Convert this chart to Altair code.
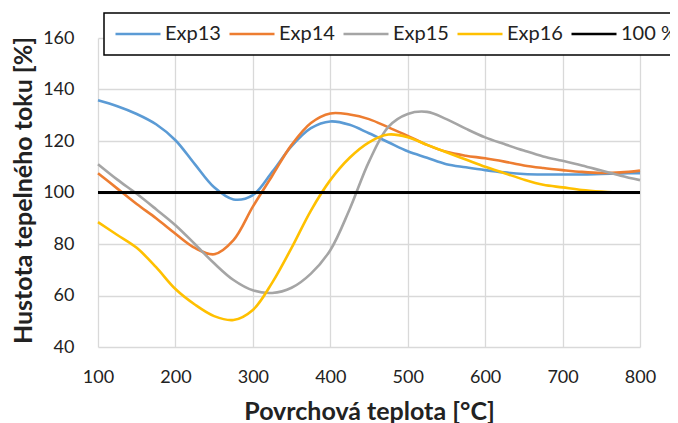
import altair as alt
import pandas as pd

temps = [100, 125, 150, 175, 200, 225, 250, 275, 300, 325, 350, 375, 400, 425, 450,
         475, 500, 525, 550, 575, 600, 625, 650, 675, 700, 725, 750, 775, 800]

exp13 = [135.8, 133.5, 130.5, 126.5, 120.3, 111.0, 102.0, 97.3, 99.0, 108.0, 118.0, 125.0,
         127.6, 126.3, 123.0, 119.5, 116.0, 113.5, 111.0, 109.8, 108.7, 107.8, 107.2, 107.0,
         107.0, 107.0, 107.2, 107.4, 107.5]
exp14 = [107.5, 101.5, 95.5, 90.0, 84.0, 78.5, 76.0, 81.5, 94.5, 106.5, 118.5, 127.0,
         130.7, 130.3, 128.5, 125.3, 122.0, 118.5, 115.8, 114.3, 113.3, 112.0, 110.5, 109.5,
         108.7, 108.0, 107.6, 107.8, 108.5]
exp15 = [111.0, 105.0, 99.5, 93.5, 87.3, 80.0, 72.5, 66.0, 62.0, 61.0, 63.0, 68.5,
         77.6, 93.5, 112.0, 125.5, 130.5, 131.3, 128.5, 124.8, 121.4, 118.8, 116.3, 114.0,
         112.3, 110.5, 108.5, 106.5, 104.8]
exp16 = [88.5, 83.5, 78.5, 71.0, 62.5, 56.5, 52.0, 50.5, 54.4, 65.0, 78.5, 93.0,
         104.8, 113.5, 119.5, 122.5, 121.5, 118.5, 115.6, 112.8, 110.0, 107.5, 105.0, 103.0,
         102.0, 101.0, 100.4, 100.0, 100.0]

ref_temps = [100, 800]
ref_values = [100, 100]

series_names = ["Exp13", "Exp14", "Exp15", "Exp16", "100 %"]
series_colors = ["#5B9BD5", "#ED7D31", "#A5A5A5", "#FFC000", "#000000"]

x_ticks = [100, 200, 300, 400, 500, 600, 700, 800]
y_ticks = [40, 60, 80, 100, 120, 140, 160]

rows = []
for name, vals in zip(series_names[:4], [exp13, exp14, exp15, exp16]):
    for t, v in zip(temps, vals):
        rows.append({"T": t, "V": v, "S": name})
df = pd.DataFrame(rows)
ref_df = pd.DataFrame({"T": ref_temps, "V": ref_values, "S": ["100 %"] * len(ref_temps)})

FONT = "Lato"

x_enc = alt.X("T:Q", scale=alt.Scale(domain=[100, 800], nice=False),
              axis=alt.Axis(values=x_ticks, title="Povrchová teplota [°C]",
                            labelFlush=False, labelPadding=21,
                            titleX=271, titleY=72, titleBaseline="alphabetic",
                            titleAlign="center"))
y_enc = alt.Y("V:Q", scale=alt.Scale(domain=[40, 160], nice=False),
              axis=alt.Axis(values=y_ticks, title="Hustota tepelného toku [%]",
                            labelPadding=24, titleX=-67, titleY=152,
                            titleBaseline="alphabetic", titleAlign="center",
                            titleAngle=270))
color_enc = alt.Color("S:N",
                      scale=alt.Scale(domain=series_names, range=series_colors),
                      legend=alt.Legend(orient="none", legendX=6, legendY=-25,
                                        direction="horizontal", title=None,
                                        symbolType="M-1.9,0H7.1", symbolSize=100,
                                        symbolStrokeWidth=2.6, labelFontSize=20,
                                        labelFont=FONT, labelColor="#222222",
                                        labelOffset=30, columnPadding=3,
                                        strokeColor="black", fillColor="white",
                                        padding=11))

lines = alt.Chart(df).mark_line(interpolate="catmull-rom", strokeWidth=2.6).encode(
    x=x_enc, y=y_enc, color=color_enc, detail="S:N")
ref = alt.Chart(ref_df).mark_line(strokeWidth=3).encode(
    x="T:Q", y="V:Q", color=alt.Color("S:N"))

chart = alt.layer(lines, ref).properties(
    width=542, height=309,
    autosize=alt.AutoSizeParams(type="none"),
    padding={"left": 90, "top": 30, "right": 30, "bottom": 76},
).configure_view(stroke=None).configure_axis(
    domain=False, ticks=False, grid=True, gridColor="#D9D9D9", gridWidth=1.3,
    labelFont=FONT, labelFontSize=18, labelColor="#222222",
    titleFont=FONT, titleFontSize=25, titleFontWeight="bold", titleColor="#222222",
).configure_legend(strokeWidth=1.5)

chart.save("out.html", embed_options={"renderer": "svg", "actions": False})
